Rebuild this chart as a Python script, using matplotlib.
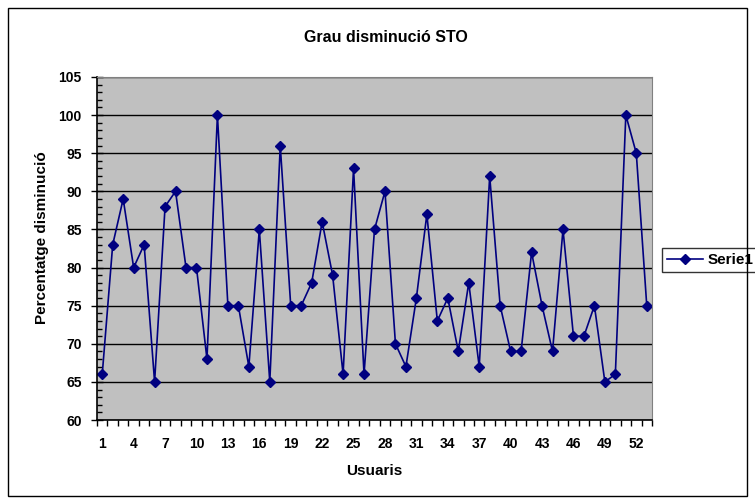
import matplotlib
matplotlib.use("Agg")
import matplotlib.pyplot as plt
from matplotlib.ticker import MultipleLocator, FixedLocator, NullFormatter
from matplotlib.patches import Rectangle

users = list(range(1, 54))
values = [66, 83, 89, 80, 83, 65, 88, 90, 80, 80, 68, 100, 75, 75, 67, 85, 65, 96,
          75, 75, 78, 86, 79, 66, 93, 66, 85, 90, 70, 67, 76, 87, 73, 76, 69, 78,
          67, 92, 75, 69, 69, 82, 75, 69, 85, 71, 71, 75, 65, 66, 100, 95, 75]
xtick_labels = list(range(1, 54, 3))
series_name = "Serie1"
title = "Grau disminució STO"
xlabel = "Usuaris"
ylabel = "Percentatge disminució"

plt.rcParams['font.family'] = ['Liberation Sans', 'DejaVu Sans']

fig = plt.figure(figsize=(7.55, 5.04), dpi=100)
fig.patches.append(Rectangle((8/755, 8/504), 739/755, 488/504, transform=fig.transFigure,
                             fill=False, edgecolor='black', linewidth=1))
ax = fig.add_axes([97/755, 1 - 420/504, (652 - 97)/755, (420 - 77)/504])
ax.set_facecolor('#C0C0C0')
ax.plot(users, values, color='#000080', marker='D', markersize=5, linewidth=1.2,
        label=series_name)
ax.set_xlim(0.5, 53.5)
ax.set_ylim(60, 105)
ax.yaxis.set_major_locator(MultipleLocator(5))
ax.yaxis.set_minor_locator(MultipleLocator(1))
ax.grid(axis='y', which='major', color='black', linewidth=1)
ax.set_axisbelow(True)
ax.xaxis.set_major_locator(FixedLocator(xtick_labels))
ax.set_xticklabels([str(v) for v in xtick_labels], fontsize=10, fontweight='bold')
ax.tick_params(axis='x', which='major', length=0, pad=12)
ax.xaxis.set_minor_locator(FixedLocator([i + 0.5 for i in range(0, 54)]))
ax.xaxis.set_minor_formatter(NullFormatter())
ax.tick_params(axis='x', which='minor', length=4, direction='out', width=1)
ax.tick_params(axis='y', which='major', length=8, width=1, direction='inout',
               labelsize=10, pad=7)
ax.tick_params(axis='y', which='minor', length=3.5, width=1, direction='in')
for lab in ax.get_yticklabels():
    lab.set_fontweight('bold')
for s in ['top', 'right']:
    ax.spines[s].set_color('#808080')
for s in ['left', 'bottom']:
    ax.spines[s].set_color('black')
    ax.spines[s].set_linewidth(1.2)

fig.text(386 / 755, 1 - 38/504, title, ha='center', va='center',
         fontsize=11.5, fontweight='bold')
fig.text(374 / 755, 1 - 471/504, xlabel, ha='center', va='center',
         fontsize=11, fontweight='bold')
fig.text(42/755, 1 - 238/504, ylabel, ha='center', va='center', rotation=90,
         fontsize=11, fontweight='bold')

leg = ax.legend(loc='center left', bbox_to_anchor=(662/755, 1 - 260/504),
                bbox_transform=fig.transFigure, frameon=True, fancybox=False,
                edgecolor='black', prop={'weight': 'bold', 'size': 11},
                handlelength=2.4, borderpad=0.3, handletextpad=0.3, borderaxespad=0)
leg.get_frame().set_linewidth(1)

fig.savefig('out.png', dpi=100)
